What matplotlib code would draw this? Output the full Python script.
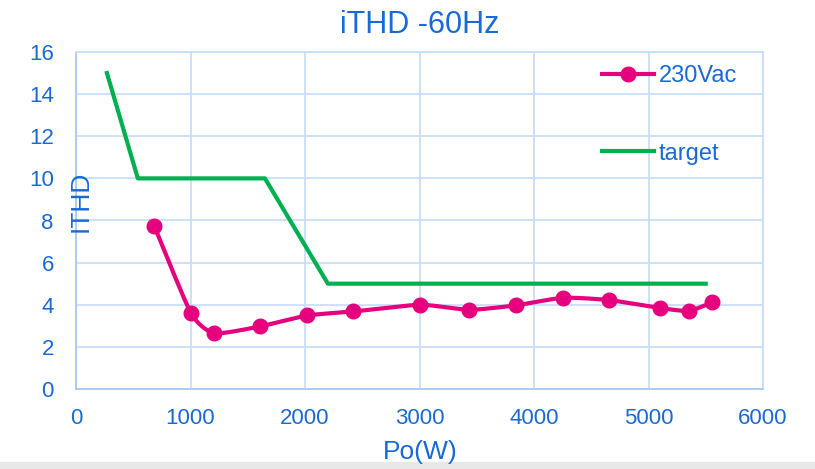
import numpy as np
import matplotlib.pyplot as plt
from matplotlib.patches import Rectangle

# measured iTHD at 230Vac, 60Hz
po_w = [683, 1004, 1209, 1606, 2020, 2422, 3004, 3434, 3839, 4253, 4659, 5104, 5353, 5554]
ithd = [7.75, 3.6, 2.65, 2.97, 3.49, 3.68, 4.0, 3.76, 3.97, 4.33, 4.22, 3.84, 3.71, 4.11]

# limit line
target_x = [270, 540, 1650, 2200, 5500]
target_y = [15, 10, 10, 5, 5]

x_ticks = [0, 1000, 2000, 3000, 4000, 5000, 6000]
y_ticks = [0, 2, 4, 6, 8, 10, 12, 14, 16]

BLUE = "#1a6ad6"
GRID = "#c9def7"
PINK = "#e6007e"
GREEN = "#00b050"


def smooth(xs, ys, n=20):
    # catmull-rom curve through the points, like a spreadsheet "smoothed line"
    p = np.column_stack([xs, ys]).astype(float)
    p = np.vstack([p[0], p, p[-1]])
    out = []
    t = np.linspace(0, 1, n, endpoint=False)
    for i in range(1, len(p) - 2):
        p0, p1, p2, p3 = p[i - 1], p[i], p[i + 1], p[i + 2]
        m1 = (p2 - p0) / 2 * 0.6
        m2 = (p3 - p1) / 2 * 0.6
        h00 = 2 * t**3 - 3 * t**2 + 1
        h10 = t**3 - 2 * t**2 + t
        h01 = -2 * t**3 + 3 * t**2
        h11 = t**3 - t**2
        seg = (np.outer(h00, p1) + np.outer(h10, m1) + np.outer(h01, p2) + np.outer(h11, m2))
        out.append(seg)
    out.append(p[-2][None, :])
    out = np.vstack(out)
    return out[:, 0], out[:, 1]


plt.rcParams["font.family"] = ["Liberation Sans", "DejaVu Sans"]

fig = plt.figure(figsize=(8.15, 4.69), dpi=100)
fig.patches.append(Rectangle((0, 0), 1, 7 / 469, transform=fig.transFigure,
                             color="#e8e8e8", zorder=-1))
ax = fig.add_axes([76 / 815, 1 - 389 / 469, 687 / 815, 337 / 469])

sx, sy = smooth(po_w, ithd)
ax.plot(sx, sy, color=PINK, lw=3, zorder=3)
ax.plot(po_w, ithd, "o", color=PINK, ms=10.5, zorder=4)
ax.plot(target_x, target_y, color=GREEN, lw=3, zorder=3)

# legend handles
h1, = ax.plot([], [], "-o", color=PINK, lw=3, ms=10.5)
h2, = ax.plot([], [], "-", color=GREEN, lw=3)
ax.legend([h1, h2], ["230Vac", "target"], loc="upper left",
          bbox_to_anchor=(602 / 815, 1 - 65 / 469), bbox_transform=fig.transFigure,
          frameon=False, fontsize=17, labelcolor=BLUE, labelspacing=2.36,
          handlelength=2.2, handletextpad=0.2, borderpad=0, borderaxespad=0)

ax.set_xlim(0, 6000)
ax.set_ylim(0, 16)
ax.set_xticks(x_ticks)
ax.set_yticks(y_ticks)
ax.tick_params(length=0, labelsize=16, labelcolor=BLUE)
ax.tick_params(axis="x", pad=14)
ax.tick_params(axis="y", pad=16)
ax.grid(True, color=GRID, lw=1.3)
ax.set_axisbelow(True)
for side, sp in ax.spines.items():
    sp.set_color("#a9c9ef" if side in ("left", "bottom") else GRID)
    sp.set_linewidth(1.3)

ax.set_title("iTHD -60Hz", color=BLUE, fontsize=22, pad=14)
fig.text(420 / 815, 1 - 452 / 469, "Po(W)", color=BLUE, fontsize=19, ha="center", va="center")
fig.text(81 / 815, 1 - 201 / 469, "ITHD", color=BLUE, fontsize=19, rotation=90,
         ha="center", va="center")

fig.savefig("out.png", dpi=100)
